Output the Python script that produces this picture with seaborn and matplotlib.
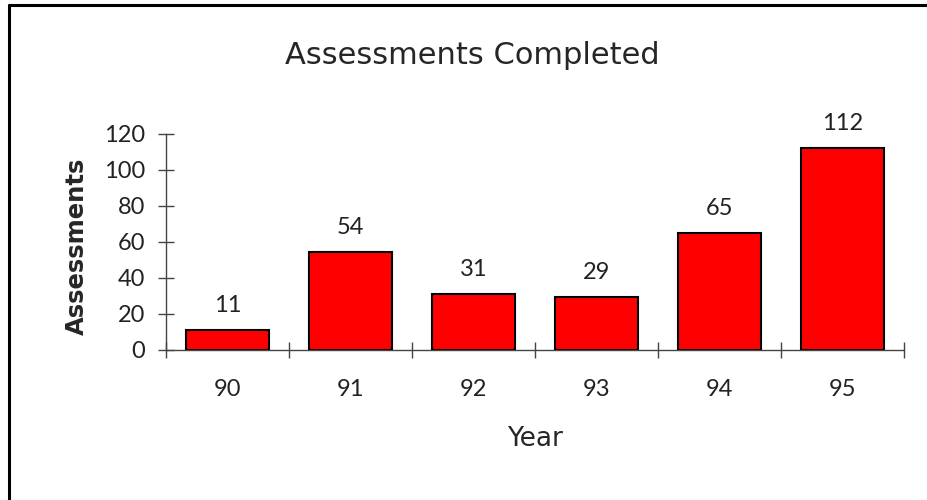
import pandas as pd
import matplotlib.pyplot as plt
from matplotlib.lines import Line2D
import seaborn as sns

# 数据
years = ['90', '91', '92', '93', '94', '95']
assessments = [11, 54, 31, 29, 65, 112]

df = pd.DataFrame({'Year': years, 'Assessments': assessments})

sns.set_style('white')
plt.rcParams['font.family'] = ['Lato', 'DejaVu Sans']

fig = plt.figure(figsize=(9.27, 5.0), dpi=100)
ax = fig.add_axes([0.179, 0.301, 0.796, 0.432])

sns.barplot(data=df, x='Year', y='Assessments', color='#ff0000', saturation=1,
            width=0.68, edgecolor='black', linewidth=1.5, ax=ax)

# 柱顶数值
for c in ax.containers:
    ax.bar_label(c, padding=10, fontsize=17, color='#222222')

ax.set_ylim(0, 120)
ax.set_xlim(-0.5, 5.5)
ax.set_yticks(range(0, 121, 20))
ax.tick_params(axis='y', left=True, labelsize=17, direction='inout', length=12, width=1,
               color='#444444', pad=9, labelcolor='#222222')

# x轴: 刻度在类别边界, 标签在中间
ax.set_xticks([i - 0.5 for i in range(len(years) + 1)])
ax.set_xticklabels([])
ax.set_xticks(range(len(years)), minor=True)
ax.set_xticklabels(years, minor=True)
ax.tick_params(axis='x', which='major', bottom=True, direction='inout', length=12, width=1,
               color='#444444')
ax.tick_params(axis='x', which='minor', bottom=True, length=0, labelsize=17, pad=21,
               labelcolor='#222222')

for s in ['top', 'right']:
    ax.spines[s].set_visible(False)
for s in ['left', 'bottom']:
    ax.spines[s].set_color('#444444')
    ax.spines[s].set_linewidth(1)

ax.set_xlabel('Year', fontsize=19, family=['DejaVu Sans'])
ax.xaxis.set_label_coords(0.5, -0.355)
ax.set_ylabel('Assessments', fontsize=17.5, fontweight='heavy', family=['DejaVu Sans'])
ax.yaxis.set_label_coords(-0.104, 0.48)

fig.text(0.509, 0.888, 'Assessments Completed', fontsize=22, ha='center', va='center',
         family=['DejaVu Sans'])

# 外框 (上边和左边)
fig.add_artist(Line2D([9 / 927, 1], [1 - 5 / 500, 1 - 5 / 500], color='black', linewidth=2.2,
                      transform=fig.transFigure))
fig.add_artist(Line2D([9 / 927, 9 / 927], [0, 1 - 5 / 500], color='black', linewidth=2.2,
                      transform=fig.transFigure))

fig.savefig('out.png', dpi=100)
